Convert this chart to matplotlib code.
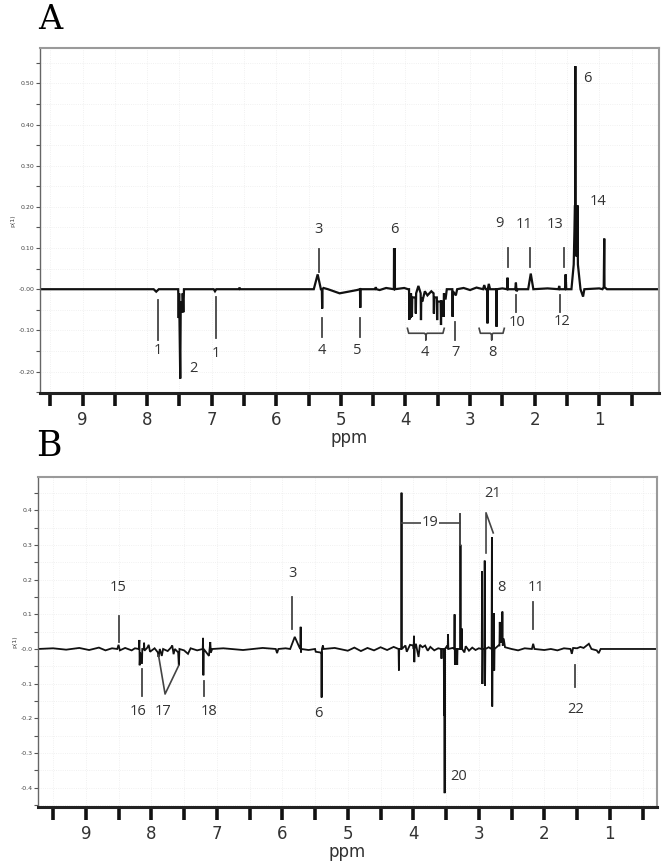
import numpy as np
import matplotlib
matplotlib.use("Agg")
from matplotlib import pyplot as plt
from matplotlib.ticker import MultipleLocator, FixedLocator

# ---- panel A: spectrum vertices (ppm, p(1))
a_ppm = [9.65, 7.90, 7.86, 7.82,
         7.52, 7.512, 7.505, 7.488, 7.480, 7.455, 7.45, 7.44, 7.43,
         6.97, 6.95, 6.93, 6.58, 6.57, 6.56,
         5.42, 5.36, 5.31, 5.295, 5.29, 5.285, 5.27,
         5.20, 5.02, 4.75, 4.705, 4.70, 4.695,
         4.47, 4.46, 4.45, 4.40, 4.30, 4.19,
         4.180, 4.177, 4.172, 4.168, 4.163, 4.02, 3.96,
         3.945, 3.94, 3.935, 3.92, 3.915, 3.90, 3.895, 3.845, 3.84, 3.835, 3.80,
         3.765, 3.76, 3.755, 3.74, 3.70, 3.66, 3.60, 3.565, 3.56, 3.555, 3.515,
         3.51, 3.505, 3.455, 3.45, 3.445, 3.415, 3.41, 3.405, 3.38, 3.36,
         3.275, 3.27, 3.265, 3.22, 3.20,
         3.10, 3.00, 2.90, 2.80, 2.78, 2.76,
         2.735, 2.73, 2.725, 2.71, 2.69, 2.595, 2.59, 2.585,
         2.50, 2.425, 2.42, 2.415, 2.30, 2.29, 2.28, 2.26, 2.10, 2.06, 2.02,
         1.80, 1.63, 1.62, 1.61, 1.53, 1.52, 1.51,
         1.43, 1.395, 1.375, 1.372, 1.370, 1.368, 1.362, 1.356, 1.35, 1.345, 1.338,
         1.33, 1.29, 1.25, 1.23,
         1.00, 0.95, 0.93, 0.922, 0.918, 0.88, 0.10]
a_int = [0.0, 0.0, -0.006, 0.0,
         0.0, -0.070, -0.010, -0.217, -0.030, -0.056, -0.010, -0.056, 0.0,
         0.0, -0.005, 0.0, 0.0, 0.004, 0.0,
         0.0, 0.036, 0.0, 0.0, -0.047, 0.0, 0.003,
         0.0, -0.010, -0.002, 0.0, -0.045, 0.0,
         0.0, 0.005, 0.0, -0.002, 0.003, 0.0,
         0.0, 0.099, 0.030, 0.099, 0.0, 0.003, 0.0,
         0.0, -0.074, -0.010, -0.070, -0.010, -0.067, -0.020, -0.020, -0.059, -0.010, 0.008,
         -0.010, -0.075, -0.020, -0.030, -0.005, -0.015, -0.005, -0.010, -0.059, -0.020, -0.020,
         -0.075, -0.030, -0.030, -0.087, -0.030, -0.030, -0.067, -0.010, -0.025, 0.0,
         0.0, -0.067, -0.005, -0.015, 0.0,
         0.003, -0.002, 0.004, 0.0, 0.010, 0.0,
         0.0, -0.083, 0.0, 0.013, 0.0, 0.0, -0.091, 0.0,
         0.002, 0.0, 0.028, 0.0, 0.0, 0.016, -0.005, 0.0, 0.0, 0.038, 0.0,
         0.002, 0.0, 0.008, 0.0, 0.0, 0.036, 0.0,
         0.0, 0.060, 0.204, 0.100, 0.542, 0.100, 0.204, 0.080, 0.204, 0.080, 0.204,
         0.060, 0.0, -0.018, 0.0,
         0.002, 0.0, 0.005, 0.123, 0.005, 0.0, 0.0]

# ---- panel B: spectrum vertices
b_ppm = [9.73, 9.50, 9.30, 9.10, 8.95, 8.80, 8.70, 8.60, 8.52, 8.50, 8.48, 8.40, 8.30, 8.25,
         8.19, 8.182, 8.178, 8.17, 8.142, 8.138, 8.115, 8.11, 8.105, 8.06, 8.04, 8.02,
         7.95, 7.90, 7.89, 7.87, 7.84, 7.82, 7.75, 7.70, 7.68, 7.66, 7.64, 7.59, 7.58,
         7.57, 7.50, 7.44, 7.40, 7.30, 7.215, 7.21, 7.205, 7.20, 7.12, 7.10, 7.09, 7.07,
         6.90, 6.60, 6.30, 6.10, 6.08, 6.06, 5.95, 5.88, 5.81, 5.74, 5.725, 5.72, 5.715, 5.71,
         5.60, 5.50, 5.49, 5.42, 5.405, 5.40, 5.395, 5.38, 5.37, 5.20, 5.00, 4.90, 4.80, 4.70,
         4.60, 4.50, 4.40, 4.30, 4.225, 4.22, 4.215, 4.185, 4.18, 4.175, 4.12, 4.10, 4.05,
         4.00, 3.995, 3.99, 3.985, 3.98, 3.96, 3.94, 3.92, 3.90, 3.86, 3.82, 3.78, 3.74,
         3.68, 3.62, 3.58, 3.575, 3.57, 3.565, 3.535, 3.53, 3.527, 3.522, 3.518, 3.48,
         3.475, 3.47, 3.465, 3.40, 3.375, 3.37, 3.365, 3.36, 3.335, 3.33, 3.325,
         3.285, 3.28, 3.275, 3.265, 3.26, 3.255, 3.22, 3.20, 3.15, 3.10, 3.05, 3.00,
         2.955, 2.95, 2.945, 2.94, 2.915, 2.91, 2.905, 2.90, 2.85, 2.805, 2.80, 2.795, 2.79,
         2.775, 2.77, 2.765, 2.76, 2.70, 2.685, 2.68, 2.675, 2.645, 2.64, 2.635, 2.62, 2.60,
         2.50, 2.40, 2.30, 2.19, 2.17, 2.15, 2.00, 1.90, 1.80, 1.70, 1.60, 1.58, 1.56,
         1.50, 1.45, 1.40, 1.32, 1.28, 1.20, 1.17, 1.14, 1.00, 0.30]
b_int = [0.0, 0.002, -0.002, 0.003, -0.003, 0.004, -0.004, 0.002, 0.0, 0.012, -0.004, 0.003, -0.004, 0.002,
         0.0, 0.026, -0.047, -0.010, -0.043, 0.0, 0.0, 0.018, -0.005, 0.004, 0.012, -0.008,
         0.002, -0.010, -0.023, 0.0, -0.020, 0.0, -0.006, 0.004, 0.010, -0.015, 0.0, -0.010, -0.047,
         0.0, -0.004, -0.014, 0.002, -0.004, 0.0, 0.032, -0.076, 0.0, -0.020, 0.020, -0.010, 0.0,
         0.002, -0.003, 0.003, 0.0, -0.012, 0.0, 0.002, 0.0, 0.035, 0.005, 0.0, 0.064, -0.010, 0.0,
         -0.003, 0.0, -0.008, -0.010, -0.010, -0.140, 0.0, 0.010, 0.0, 0.003, -0.005, 0.004, -0.006, 0.003,
         -0.004, 0.005, -0.003, 0.006, 0.0, -0.062, 0.0, 0.0, 0.451, 0.0, 0.010, -0.008, 0.012,
         0.010, 0.0, 0.038, -0.038, 0.0, 0.015, -0.005, -0.023, 0.012, 0.005, 0.010, -0.005, 0.006,
         -0.004, 0.002, 0.0, 0.0, -0.028, 0.0, 0.0, -0.193, 0.0, -0.416, 0.0, 0.010,
         0.0, 0.042, 0.0, 0.003, 0.0, 0.100, -0.046, 0.0, 0.0, -0.046, 0.0,
         0.0, 0.301, 0.0, 0.0, 0.059, 0.0, -0.010, 0.008, -0.005, 0.004, -0.003, 0.002,
         0.0, 0.224, -0.101, 0.0, 0.0, 0.255, -0.106, 0.0, 0.005, 0.0, 0.323, -0.166, 0.0,
         0.0, 0.103, -0.062, 0.0, 0.010, 0.010, 0.078, 0.020, 0.020, 0.108, 0.010, 0.030, 0.005,
         0.0, -0.004, 0.002, 0.0, 0.015, 0.0, -0.003, 0.0, -0.004, 0.002, 0.0, -0.014, 0.003,
         0.002, 0.006, 0.003, 0.015, 0.0, -0.004, -0.012, 0.0, 0.0, 0.0]

# ---- annotations: label text, label position, marker line
a_labels = ["1", "2", "1", "3", "4", "5", "6", "4", "7", "8", "9", "10", "11", "12", "13", "6", "14"]
a_lab_x = [7.83, 7.29, 6.93, 5.34, 5.29, 4.74, 4.18, 3.70, 3.23, 2.66, 2.54, 2.27, 2.17, 1.58, 1.68, 1.19, 1.02]
a_lab_y = [-0.150, -0.192, -0.156, 0.146, -0.148, -0.148, 0.146, -0.154, -0.154, -0.154,
           0.160, -0.081, 0.157, -0.079, 0.157, 0.512, 0.212]
a_tick_x = [7.83, 6.93, 5.34, 5.29, 4.70, 3.23, 2.42, 2.29, 2.07, 1.61, 1.54]
a_tick_y0 = [-0.025, -0.018, 0.098, -0.071, -0.071, -0.079, 0.099, -0.014, 0.099, -0.014, 0.099]
a_tick_y1 = [-0.123, -0.119, 0.042, -0.115, -0.115, -0.123, 0.055, -0.055, 0.055, -0.055, 0.055]
a_brace = [(3.97, 3.40), (2.86, 2.47)]

b_labels = ["15", "16", "17", "18", "3", "6", "19", "20", "21", "8", "11", "22"]
b_lab_x = [8.51, 8.20, 7.82, 7.12, 5.84, 5.45, 3.74, 3.31, 2.79, 2.66, 2.13, 1.52]
b_lab_y = [0.178, -0.181, -0.181, -0.181, 0.219, -0.185, 0.364, -0.367, 0.449, 0.177, 0.177, -0.174]
b_tick_x = [8.50, 8.14, 7.19, 5.85, 2.17, 1.53]
b_tick_y0 = [0.096, -0.057, -0.091, 0.151, 0.135, -0.046]
b_tick_y1 = [0.020, -0.135, -0.135, 0.057, 0.059, -0.110]

tick_pos = [9.5, 9, 8.5, 8, 7.5, 7, 6.5, 6, 5.5, 5, 4.5, 4, 3.5, 3, 2.5, 2, 1.5, 1, 0.5]
tick_txt = ["", "9", "", "8", "", "7", "", "6", "", "5", "", "4", "", "3", "", "2", "", "1", ""]

lab_font = dict(fontsize=10.5, color="#333333", ha="center", va="center", family="Open Sans")
ink = "#111111"
mark = "#444444"


def style(ax, ylim, xlim, ymaj, ymin):
    ax.set_xlim(*xlim)
    ax.set_ylim(*ylim)
    for s in ["top", "right"]:
        ax.spines[s].set_color("#9a9a9a")
        ax.spines[s].set_linewidth(1.5)
    ax.spines["left"].set_color("#666666")
    ax.spines["left"].set_linewidth(1.0)
    ax.spines["bottom"].set_color("#222222")
    ax.spines["bottom"].set_linewidth(2.2)
    ax.xaxis.set_major_locator(FixedLocator(tick_pos))
    ax.set_xticklabels(tick_txt)
    ax.tick_params(axis="x", direction="out", length=9, width=2.6, color="#111111",
                   labelsize=12, pad=4, labelcolor="#333333")
    ax.yaxis.set_minor_locator(MultipleLocator(ymin))
    ax.tick_params(axis="y", which="both", direction="out", length=3, width=0.8,
                   color="#555555", labelsize=4.5, pad=1, labelcolor="#444444")
    ax.grid(True, which="both", color="#ececec", linewidth=0.6, linestyle=":")
    ax.set_axisbelow(True)
    ax.set_xlabel("ppm", fontsize=12, color="#333333", labelpad=0)
    ax.set_ylabel("p(1)", fontsize=4.5, color="#444444", labelpad=2)


def neg_fmt(vals, fmt):
    return [("-" + fmt.format(abs(v))) if v <= 0 else fmt.format(v) for v in vals]


fig = plt.figure(figsize=(6.62, 8.61), dpi=100)

# ---------------- A
axa = fig.add_axes([0.0604, 0.5436, 0.9345, 0.4007])
axa.plot(a_ppm, a_int, color=ink, linewidth=1.6, solid_joinstyle="miter")
style(axa, (-0.252, 0.586), (9.66, 0.08), 0.1, 0.05)
a_yt = np.round(np.arange(-0.2, 0.51, 0.1), 2)
axa.set_yticks(a_yt)
axa.set_yticklabels(neg_fmt(a_yt, "{:.2f}"))
for x, y0, y1 in zip(a_tick_x, a_tick_y0, a_tick_y1):
    axa.plot([x, x], [y0, y1], color=mark, linewidth=1.3)
for x0, x1 in a_brace:
    xc = (x0 + x1) / 2
    axa.plot([x0, x0 - 0.02, xc + 0.02, xc, xc, xc, xc - 0.02, x1 + 0.02, x1],
             [-0.095, -0.107, -0.107, -0.111, -0.123, -0.111, -0.107, -0.107, -0.095],
             color=mark, linewidth=1.2)
for t, x, y in zip(a_labels, a_lab_x, a_lab_y):
    axa.text(x, y, t, **lab_font)
fig.text(0.057, 0.977, "A", fontsize=24, family="DejaVu Serif", ha="left", va="center")

# ---------------- B
axb = fig.add_axes([0.0574, 0.0631, 0.9350, 0.3832])
axb.plot(b_ppm, b_int, color=ink, linewidth=1.3, solid_joinstyle="miter")
style(axb, (-0.455, 0.497), (9.73, 0.28), 0.1, 0.05)
b_yt = np.round(np.arange(-0.4, 0.41, 0.1), 1)
axb.set_yticks(b_yt)
axb.set_yticklabels(neg_fmt(b_yt, "{:.1f}"))
for x, y0, y1 in zip(b_tick_x, b_tick_y0, b_tick_y1):
    axb.plot([x, x], [y0, y1], color=mark, linewidth=1.3)
# 17: V shaped pointer, 19: bracket, 21: hook
axb.plot([7.89, 7.79, 7.58], [-0.018, -0.130, -0.047], color=mark, linewidth=1.2)
axb.plot([4.18, 3.28], [0.364, 0.364], color=mark, linewidth=1.2)
axb.plot([3.28, 3.28], [0.389, 0.301], color=mark, linewidth=1.4)
axb.plot([2.89, 2.89, 2.78], [0.277, 0.393, 0.335], color=mark, linewidth=1.2)
for t, x, y in zip(b_labels, b_lab_x, b_lab_y):
    kw = dict(lab_font)
    if t == "19":
        kw["bbox"] = dict(facecolor="white", edgecolor="none", pad=0.5)
    axb.text(x, y, t, **kw)
fig.text(0.055, 0.482, "B", fontsize=25, family="DejaVu Serif", ha="left", va="center")

fig.savefig("out.png", dpi=100)
